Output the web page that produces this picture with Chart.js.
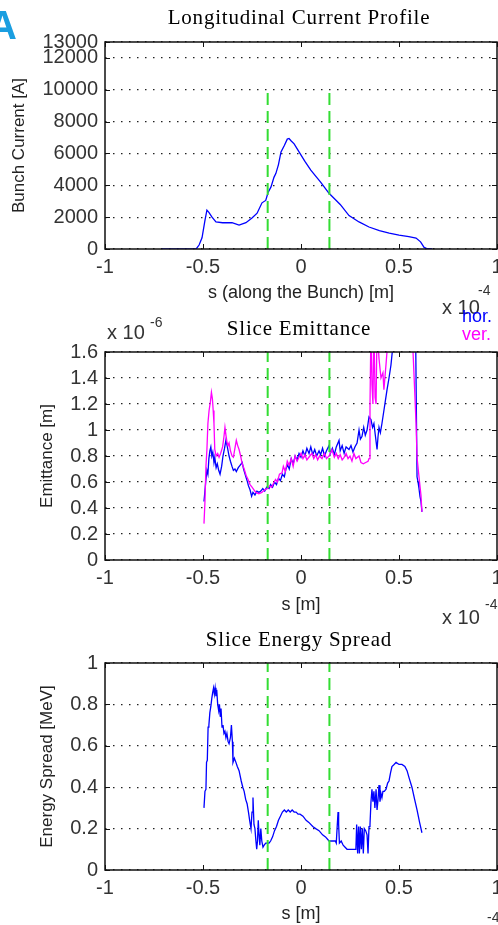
<!DOCTYPE html>
<html>
<head>
<meta charset="utf-8">
<script src="https://cdn.jsdelivr.net/npm/chart.js@4.4.1/dist/chart.umd.min.js"></script>
<style>
  html, body { margin: 0; padding: 0; background: #fff; }
  #page { position: relative; width: 498px; height: 925px; overflow: hidden; }
  canvas { position: absolute; left: 0; }
</style>
</head>
<body>
<div id="page">
  <canvas id="currentChart" width="520" height="320" style="top:0"></canvas>
  <canvas id="emitChart" width="520" height="320" style="top:310px"></canvas>
  <canvas id="spreadChart" width="520" height="305" style="top:620px"></canvas>
</div>
<script>
// s axis in units of 1e-4 m
const xTicks = [-1, -0.5, 0, 0.5, 1];
const sliceBounds = [-0.17, 0.145];

// Longitudinal current profile
const currentTicks = [0, 2000, 4000, 6000, 8000, 10000, 12000, 13000];
const currentS = [-0.71, -0.6, -0.535, -0.52, -0.505, -0.49, -0.48, -0.47, -0.454, -0.434, -0.4, -0.352, -0.316,
  -0.281, -0.25, -0.224, -0.199, -0.18, -0.168, -0.153, -0.138, -0.128, -0.115, -0.102, -0.085, -0.07, -0.061,
  -0.051, -0.035, -0.01, 0.02, 0.05, 0.1, 0.143, 0.2, 0.245, 0.296, 0.347, 0.4, 0.45, 0.5, 0.55, 0.587, 0.61,
  0.628, 0.64, 0.67];
const currentA = [0, 0, 0, 250, 700, 1800, 2440, 2300, 2000, 1700, 1650, 1650, 1500,
  1650, 1950, 2250, 2900, 3050, 3550, 3900, 4500, 4750, 5300, 6100, 6500, 6900, 6940,
  6800, 6600, 6100, 5500, 4950, 4200, 3500, 2800, 2100, 1700, 1380, 1150, 1000, 870, 780, 690, 450,
  100, 40, 0];

// Slice emittance, units of 1e-6 m
const emitTicks = [0, 0.2, 0.4, 0.6, 0.8, 1, 1.2, 1.4, 1.6];
const horS = [-0.495, -0.492, -0.485, -0.48, -0.475, -0.47, -0.465, -0.46, -0.455, -0.45, -0.444, -0.44, -0.433,
  -0.427, -0.42, -0.413, -0.405, -0.398, -0.39, -0.383, -0.377, -0.372, -0.367, -0.36, -0.352, -0.345, -0.337,
  -0.33, -0.32, -0.31, -0.3, -0.293, -0.285, -0.275, -0.268, -0.26, -0.252, -0.245, -0.235, -0.225, -0.215,
  -0.205, -0.195, -0.185, -0.175, -0.163, -0.155, -0.145, -0.135, -0.125, -0.115, -0.105, -0.095, -0.085,
  -0.077, -0.068, -0.06, -0.05, -0.04, -0.03, -0.02, -0.01, 0, 0.01, 0.02, 0.03, 0.041, 0.05, 0.06, 0.07,
  0.08, 0.092, 0.1, 0.11, 0.12, 0.13, 0.143, 0.15, 0.16, 0.17, 0.18, 0.194, 0.2, 0.21, 0.22, 0.23, 0.245,
  0.255, 0.265, 0.275, 0.286, 0.296, 0.303, 0.311, 0.32, 0.328, 0.337, 0.347, 0.357, 0.365, 0.372, 0.38,
  0.388, 0.393, 0.398, 0.405, 0.413, 0.423, 0.43, 0.439, 0.449, 0.459, 0.469, 0.48, 0.5, 0.54, 0.57, 0.585,
  0.592, 0.597, 0.602, 0.607, 0.612, 0.617];
const horE = [0.45, 0.5, 0.62, 0.69, 0.66, 0.78, 0.84, 0.87, 0.8, 0.83, 0.75, 0.79, 0.71,
  0.74, 0.69, 0.66, 0.72, 0.8, 0.86, 0.92, 0.88, 0.84, 0.8, 0.76, 0.72, 0.69, 0.7,
  0.68, 0.71, 0.73, 0.75, 0.7, 0.66, 0.61, 0.57, 0.54, 0.49, 0.52, 0.5, 0.53, 0.52,
  0.53, 0.55, 0.53, 0.56, 0.55, 0.58, 0.56, 0.6, 0.58, 0.63, 0.61, 0.66, 0.64,
  0.7, 0.73, 0.7, 0.78, 0.74, 0.8, 0.77, 0.82, 0.79, 0.84, 0.8, 0.86, 0.82, 0.87, 0.81, 0.85,
  0.8, 0.84, 0.81, 0.86, 0.8, 0.84, 0.88, 0.82, 0.86, 0.81, 0.87, 0.92, 0.84, 0.88, 0.82, 0.87, 0.85,
  0.88, 0.83, 0.87, 0.9, 1.0, 0.93, 0.95, 1.02, 0.96, 1.0, 1.1, 1.08, 1.02, 1.05, 0.95,
  0.85, 0.95, 1.02, 0.98, 1.05, 1.15, 1.22, 1.31, 1.4, 1.5, 1.65, 1.85, 2.0, 2.0, 1.9, 1.7,
  0.64, 0.6, 0.55, 0.49, 0.45, 0.37];
const verS = [-0.495, -0.49, -0.485, -0.48, -0.475, -0.469, -0.462, -0.457, -0.452, -0.448, -0.444, -0.44, -0.433,
  -0.425, -0.418, -0.41, -0.4, -0.393, -0.388, -0.383, -0.377, -0.372, -0.367, -0.36, -0.352, -0.345, -0.337,
  -0.33, -0.323, -0.316, -0.308, -0.3, -0.29, -0.28, -0.27, -0.26, -0.25, -0.24, -0.23, -0.215, -0.2, -0.185,
  -0.17, -0.16, -0.15, -0.14, -0.13, -0.12, -0.11, -0.097, -0.09, -0.08, -0.07, -0.061, -0.05, -0.04, -0.03,
  -0.02, -0.01, 0, 0.01, 0.02, 0.03, 0.045, 0.056, 0.065, 0.075, 0.085, 0.095, 0.107, 0.12, 0.13, 0.143,
  0.158, 0.17, 0.18, 0.19, 0.2, 0.21, 0.22, 0.23, 0.24, 0.25, 0.26, 0.27, 0.28, 0.296, 0.306, 0.318, 0.33,
  0.342, 0.347, 0.352, 0.357, 0.362, 0.367, 0.372, 0.378, 0.383, 0.388, 0.398, 0.408, 0.418, 0.423, 0.434,
  0.449, 0.5, 0.55, 0.566, 0.577, 0.587, 0.592, 0.602, 0.612, 0.617];
const verE = [0.28, 0.45, 0.72, 0.85, 1.05, 1.15, 1.22, 1.29, 1.24, 1.15, 1.05, 0.85, 0.8,
  0.82, 0.79, 0.82, 0.87, 0.95, 1.02, 0.96, 0.9, 0.88, 0.9, 0.84, 0.8, 0.79, 0.86,
  0.92, 0.88, 0.85, 0.8, 0.74, 0.7, 0.65, 0.62, 0.58, 0.56, 0.54, 0.52, 0.51, 0.52, 0.54,
  0.55, 0.57, 0.56, 0.59, 0.62, 0.6, 0.66, 0.67, 0.72, 0.68, 0.76, 0.73, 0.78, 0.72, 0.8,
  0.76, 0.79, 0.82, 0.78, 0.81, 0.77, 0.8, 0.82, 0.78, 0.81, 0.77, 0.8, 0.78, 0.82, 0.78, 0.8,
  0.85, 0.79, 0.82, 0.78, 0.81, 0.77, 0.79, 0.82, 0.78, 0.8, 0.76, 0.82, 0.78, 0.8, 0.75, 0.74, 0.75,
  0.76, 0.78, 1.18, 1.8, 1.35, 1.2, 1.8, 1.25, 1.2, 1.8, 1.55, 1.4, 1.44, 1.31, 1.51,
  1.8, 2.0, 2.0, 1.8, 1.41, 1.05, 0.79, 0.64, 0.5, 0.37];

// Slice energy spread, MeV
const spreadTicks = [0, 0.2, 0.4, 0.6, 0.8, 1];
const spreadS = [-0.495, -0.49, -0.485, -0.482, -0.478, -0.474, -0.47, -0.465, -0.46, -0.455, -0.45, -0.446,
  -0.442, -0.438, -0.434, -0.43, -0.425, -0.42, -0.416, -0.412, -0.408, -0.403, -0.398, -0.393, -0.388, -0.383,
  -0.378, -0.372, -0.367, -0.36, -0.355, -0.35, -0.347, -0.34, -0.332, -0.325, -0.316, -0.305, -0.297, -0.29,
  -0.282, -0.275, -0.268, -0.262, -0.255, -0.25, -0.245, -0.24, -0.235, -0.23, -0.226, -0.222, -0.218, -0.214,
  -0.21, -0.205, -0.2, -0.194, -0.188, -0.18, -0.17, -0.163, -0.155, -0.145, -0.135, -0.125, -0.115, -0.105,
  -0.095, -0.085, -0.075, -0.065, -0.055, -0.045, -0.035, -0.025, -0.015, -0.005, 0.01, 0.026, 0.04, 0.06,
  0.075, 0.092, 0.11, 0.125, 0.143, 0.16, 0.175, 0.18, 0.184, 0.189, 0.192, 0.196, 0.205, 0.215, 0.225, 0.235,
  0.25, 0.265, 0.28, 0.284, 0.289, 0.294, 0.298, 0.303, 0.308, 0.313, 0.318, 0.323, 0.33, 0.337, 0.342, 0.347,
  0.352, 0.357, 0.362, 0.367, 0.372, 0.377, 0.383, 0.388, 0.393, 0.398, 0.403, 0.408, 0.413, 0.418, 0.425,
  0.434, 0.442, 0.449, 0.457, 0.464, 0.475, 0.485, 0.5, 0.515, 0.53, 0.541, 0.553, 0.566, 0.58, 0.592, 0.605,
  0.617];
const spreadE = [0.3, 0.38, 0.39, 0.52, 0.53, 0.69, 0.7, 0.76, 0.79, 0.83, 0.86, 0.88,
  0.85, 0.88, 0.84, 0.87, 0.8, 0.77, 0.8, 0.74, 0.78, 0.69, 0.7, 0.66, 0.67, 0.64,
  0.66, 0.62, 0.61, 0.64, 0.7, 0.62, 0.52, 0.54, 0.52, 0.5, 0.48, 0.43, 0.4, 0.38,
  0.34, 0.32, 0.28, 0.24, 0.2, 0.28, 0.35, 0.22, 0.2, 0.14, 0.1, 0.14, 0.24, 0.17,
  0.12, 0.2, 0.14, 0.11, 0.12, 0.13, 0.13, 0.13, 0.14, 0.16, 0.19, 0.21, 0.24, 0.26,
  0.28, 0.29, 0.28, 0.29, 0.28, 0.29, 0.28, 0.28, 0.27, 0.27, 0.26, 0.24, 0.23, 0.21,
  0.2, 0.19, 0.17, 0.16, 0.14, 0.14, 0.14, 0.13, 0.2, 0.28, 0.22, 0.13, 0.14, 0.12, 0.11, 0.1,
  0.1, 0.1, 0.1, 0.22, 0.08, 0.21, 0.08, 0.21, 0.1, 0.2, 0.08, 0.2, 0.19, 0.17, 0.08, 0.21,
  0.22, 0.33, 0.39, 0.33, 0.38, 0.3, 0.39, 0.29, 0.34, 0.41, 0.33, 0.37, 0.35, 0.38, 0.38,
  0.39, 0.42, 0.43, 0.47, 0.5, 0.51, 0.52, 0.51, 0.51, 0.5, 0.48, 0.44, 0.4, 0.34, 0.29, 0.23,
  0.18];

const SANS = '"Liberation Sans", Arial, sans-serif';
const SERIF = '"Liberation Serif", "Times New Roman", serif';

// box, inward ticks, titles, exponents, legend text
const decor = {
  id: "decor",
  afterDraw(chart, args, opts) {
    const { ctx, chartArea: a, scales } = chart;
    ctx.save();
    ctx.strokeStyle = "#111";
    ctx.lineWidth = 1;
    scales.x.ticks.forEach((t) => {
      const px = Math.round(scales.x.getPixelForValue(t.value)) + 0.5;
      ctx.beginPath();
      ctx.moveTo(px, a.bottom); ctx.lineTo(px, a.bottom - 5);
      ctx.moveTo(px, a.top); ctx.lineTo(px, a.top + 5);
      ctx.stroke();
    });
    scales.y.ticks.forEach((t) => {
      const py = Math.round(scales.y.getPixelForValue(t.value)) + 0.5;
      ctx.beginPath();
      ctx.moveTo(a.left, py); ctx.lineTo(a.left + 5, py);
      ctx.moveTo(a.right, py); ctx.lineTo(a.right - 5, py);
      ctx.stroke();
    });
    ctx.lineWidth = 1.5;
    ctx.strokeRect(a.left, a.top, a.right - a.left, a.bottom - a.top);

    ctx.fillStyle = "#000";
    ctx.font = "21px " + SERIF;
    ctx.letterSpacing = "0.8px";
    ctx.textAlign = "center";
    ctx.textBaseline = "alphabetic";
    ctx.fillText(opts.title, 299, opts.titleY);
    ctx.letterSpacing = "0px";

    ctx.textAlign = "left";
    ctx.textBaseline = "middle";
    ctx.fillStyle = "#333";
    (opts.exps || []).forEach((e) => {
      ctx.font = "20px " + SANS;
      ctx.fillText("x 10", e.x, e.y);
      ctx.font = "14px " + SANS;
      ctx.fillText(e.sup, e.supX, e.supY);
    });

    ctx.textBaseline = "alphabetic";
    ctx.font = "18px " + SANS;
    (opts.legend || []).forEach((l) => {
      ctx.fillStyle = l.color;
      ctx.fillText(l.text, l.x, l.y);
    });

    if (opts.badge) {
      ctx.fillStyle = "#1a9ee0";
      ctx.font = "bold 40px " + SANS;
      ctx.fillText(opts.badge, -12, 39);
    }
    ctx.restore();
  },
};

function toPoints(xs, ys) {
  return xs.map((x, i) => ({ x, y: ys[i] }));
}

function sliceLines(top) {
  return sliceBounds.map((b) => ({
    data: [{ x: b, y: 0 }, { x: b, y: top }],
    borderColor: "#33dd33",
    borderWidth: 2,
    borderDash: [12, 6],
    pointRadius: 0,
  }));
}

function curve(xs, ys, color) {
  return {
    data: toPoints(xs, ys),
    borderColor: color,
    borderWidth: 1.3,
    pointRadius: 0,
    tension: 0,
  };
}

function panel(id, o) {
  const tickFont = { family: SANS, size: 20 };
  return new Chart(document.getElementById(id), {
    type: "line",
    data: { datasets: [...sliceLines(o.sliceTop), ...o.datasets] },
    options: {
      responsive: false,
      animation: false,
      events: [],
      layout: { autoPadding: false, padding: { top: o.top, right: 23, left: 0, bottom: 0 } },
      plugins: { legend: { display: false }, tooltip: { enabled: false }, decor: o.decor },
      scales: {
        x: {
          type: "linear",
          min: -1,
          max: 1,
          afterBuildTicks: (s) => { s.ticks = xTicks.map((v) => ({ value: v })); },
          afterFit: (s) => { s.height = o.xHeight; },
          grid: { display: false, drawTicks: false },
          border: { display: false },
          ticks: { color: "#333", font: tickFont, padding: 6, maxRotation: 0, autoSkip: false, callback: (v) => String(v) },
          title: { display: true, text: o.xTitle, color: "#222", font: { family: SANS, size: 18 }, padding: { top: 0, bottom: o.xTitlePad } },
        },
        y: {
          type: "linear",
          min: 0,
          max: o.yMax,
          afterBuildTicks: (s) => { s.ticks = o.yTicks.map((v) => ({ value: v })); },
          afterFit: (s) => { s.width = 105; },
          grid: { color: "#222", lineWidth: 1.2, drawTicks: false },
          border: { display: false, dash: [1.5, 6.5] },
          ticks: { color: "#333", font: tickFont, padding: 7, autoSkip: false, callback: (v) => String(v) },
          title: { display: true, text: o.yTitle, color: "#222", font: { family: SANS, size: 17 }, padding: { top: o.yTitlePad, bottom: 0 } },
        },
      },
    },
    plugins: [decor],
  });
}

panel("currentChart", {
  top: 42, xHeight: 71, xTitlePad: 16, yTitlePad: 9,
  yMax: 13000, yTicks: currentTicks, sliceTop: 10000,
  xTitle: "s (along the Bunch) [m]", yTitle: "Bunch Current [A]",
  datasets: [curve(currentS, currentA, "#0000ff")],
  decor: {
    title: "Longitudinal Current Profile", titleY: 24, badge: "A",
    exps: [{ x: 442, y: 308, sup: "-4", supX: 478, supY: 291 }],
  },
});

panel("emitChart", {
  top: 42, xHeight: 70, xTitlePad: 14, yTitlePad: 37,
  yMax: 1.6, yTicks: emitTicks, sliceTop: 1.6,
  xTitle: "s [m]", yTitle: "Emittance [m]",
  datasets: [curve(verS, verE, "#ff00ff"), curve(horS, horE, "#0000ff")],
  decor: {
    title: "Slice Emittance", titleY: 25,
    exps: [
      { x: 107, y: 23, sup: "-6", supX: 150, supY: 13 },
      { x: 442, y: 308, sup: "-4", supX: 485, supY: 295 },
    ],
    legend: [
      { text: "hor.", color: "#0000ff", x: 462, y: 12 },
      { text: "ver.", color: "#ff00ff", x: 462, y: 30 },
    ],
  },
});

panel("spreadChart", {
  top: 43, xHeight: 55, xTitlePad: 0, yTitlePad: 37,
  yMax: 1, yTicks: spreadTicks, sliceTop: 1,
  xTitle: "s [m]", yTitle: "Energy Spread [MeV]",
  datasets: [curve(spreadS, spreadE, "#0000ff")],
  decor: {
    title: "Slice Energy Spread", titleY: 26,
    exps: [{ x: 442, y: 313, sup: "-4", supX: 487, supY: 298 }],
  },
});
</script>
</body>
</html>
